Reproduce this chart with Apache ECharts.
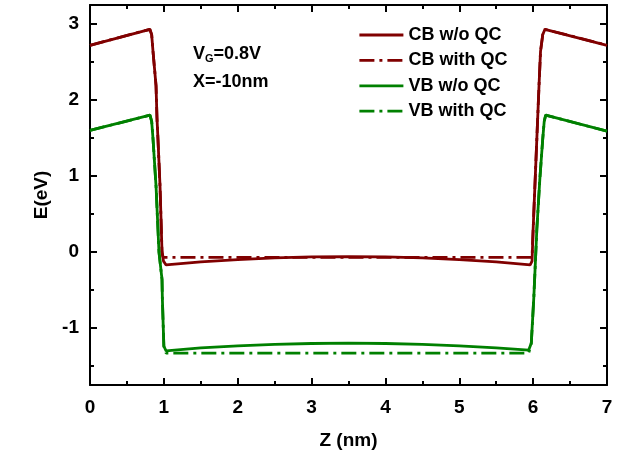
<!DOCTYPE html>
<html>
<head>
<meta charset="utf-8">
<script src="https://cdn.jsdelivr.net/npm/echarts@6/dist/echarts.min.js"></script>
<style>
  html, body { margin: 0; padding: 0; background: #fff; }
  #main { width: 632px; height: 466px; }
</style>
</head>
<body>
<div id="main"></div>
<script>
// band edges, [z (nm), E (eV)]
const cbNoQC = [
  [0, 2.72], [0.81, 2.93], [0.835, 2.86], [0.853, 2.64], [0.894, 2.19], [0.907, 1.76],
  [0.92, 1.49], [0.948, 0.87], [0.975, 0.0], [0.995, -0.12], [1.03, -0.17],
  [1.5, -0.13], [2.0, -0.10], [2.5, -0.078], [3.0, -0.065], [3.5, -0.06],
  [4.0, -0.065], [4.5, -0.078], [5.0, -0.10], [5.5, -0.13], [5.96, -0.17],
  [5.985, -0.12], [6.0, 0.3], [6.05, 1.49], [6.08, 2.2], [6.1, 2.64],
  [6.13, 2.86], [6.16, 2.93], [7, 2.72]
];
const cbQC = [
  [0, 2.72], [0.81, 2.93], [0.835, 2.86], [0.853, 2.64], [0.894, 2.19], [0.907, 1.76],
  [0.92, 1.49], [0.948, 0.87], [0.975, 0.0], [0.99, -0.07], [3.5, -0.07],
  [5.985, -0.07], [6.0, 0.3], [6.05, 1.49], [6.08, 2.2], [6.1, 2.64],
  [6.13, 2.86], [6.16, 2.93], [7, 2.72]
];
const vbNoQC = [
  [0, 1.6], [0.812, 1.8], [0.835, 1.72], [0.853, 1.49], [0.894, 0.87], [0.934, 0.0],
  [0.975, -0.36], [0.98, -0.62], [1.0, -1.24], [1.03, -1.30],
  [1.5, -1.262], [2.0, -1.235], [2.5, -1.215], [3.0, -1.204], [3.5, -1.2],
  [4.0, -1.204], [4.5, -1.215], [5.0, -1.235], [5.5, -1.262], [5.94, -1.29],
  [5.975, -1.2], [6.01, -0.58], [6.05, 0.3], [6.09, 0.95], [6.13, 1.49],
  [6.15, 1.72], [6.17, 1.8], [7, 1.59]
];
const vbQC = [
  [0, 1.6], [0.812, 1.8], [0.835, 1.72], [0.853, 1.49], [0.894, 0.87], [0.934, 0.0],
  [0.975, -0.36], [0.98, -0.62], [1.0, -1.24], [1.03, -1.33], [3.5, -1.33],
  [5.94, -1.33], [5.975, -1.2], [6.01, -0.58], [6.05, 0.3], [6.09, 0.95],
  [6.13, 1.49], [6.15, 1.72], [6.17, 1.8], [7, 1.59]
];
const seriesNames = ["CB w/o QC", "CB with QC", "VB w/o QC", "VB with QC"];
const yMajor = [-1, 0, 1, 2, 3];
const yMinor = [-1.5, -0.5, 0.5, 1.5, 2.5];

const FONT = "Liberation Sans";
const RED = "#800000";
const GREEN = "#008000";
const dashDot = [15, 5, 3, 5];

const chart = echarts.init(document.getElementById("main"));

function xAx(pos, labels) {
  return {
    type: "value", position: pos, min: 0, max: 7, interval: 1,
    axisLine: { show: true, onZero: false, lineStyle: { color: "#000", width: 2 } },
    axisTick: { show: true, inside: true, length: 7, lineStyle: { color: "#000", width: 2 } },
    minorTick: { show: true, splitNumber: 2, length: 4, lineStyle: { color: "#000", width: 2 } },
    splitLine: { show: false },
    axisLabel: { show: labels, color: "#000", fontFamily: FONT, fontWeight: "bold", fontSize: 19, margin: 13 },
    name: labels ? "Z (nm)" : "", nameLocation: "middle", nameGap: 46,
    nameTextStyle: { color: "#000", fontFamily: FONT, fontWeight: "bold", fontSize: 19 }
  };
}
function yAx(pos, vals, len, labels, line) {
  return {
    type: "value", position: pos, min: -1.75, max: 3.25,
    axisLine: { show: line, onZero: false, lineStyle: { color: "#000", width: 2 } },
    axisTick: { show: true, inside: true, length: len, customValues: vals, lineStyle: { color: "#000", width: 2 } },
    splitLine: { show: false },
    axisLabel: { show: labels, customValues: vals, color: "#000", fontFamily: FONT, fontWeight: "bold", fontSize: 19, margin: 11 },
    name: labels ? "E(eV)" : "", nameLocation: "middle", nameGap: 32,
    nameTextStyle: { color: "#000", fontFamily: FONT, fontWeight: "bold", fontSize: 19 }
  };
}

function line(name, data, color, type) {
  return {
    name: name, type: "line", data: data, symbol: "none", smooth: false,
    xAxisIndex: 0, yAxisIndex: 0,
    lineStyle: { color: color, width: 2.8, type: type },
    itemStyle: { color: color },
    animation: false
  };
}

const option = {
  animation: false,
  grid: { left: 90, right: 25, top: 5, bottom: 81 },
  xAxis: [xAx("bottom", true), xAx("top", false)],
  yAxis: [
    yAx("left", yMajor, 7, true, true),
    yAx("left", yMinor, 4, false, false),
    yAx("right", yMajor, 7, false, true),
    yAx("right", yMinor, 4, false, false)
  ],
  legend: {
    orient: "vertical", left: 358, top: 26, padding: 0,
    itemWidth: 44, itemHeight: 16, itemGap: 7.4,
    data: seriesNames,
    itemStyle: { opacity: 0 },
    lineStyle: { width: 2.8 },
    textStyle: { color: "#000", fontFamily: FONT, fontWeight: "bold", fontSize: 18, lineHeight: 16 }
  },
  graphic: [
    {
      type: "text", left: 193, top: 44,
      style: {
        text: "{v|V}{g|G}{v|=0.8V}",
        rich: {
          v: { fontFamily: FONT, fontWeight: "bold", fontSize: 18, fill: "#000", lineHeight: 20 },
          g: { fontFamily: FONT, fontWeight: "bold", fontSize: 11, fill: "#000", lineHeight: 20, verticalAlign: "bottom", padding: [9, 0, 0, 0] }
        }
      }
    },
    {
      type: "text", left: 193, top: 73,
      style: { text: "X=-10nm", fontFamily: FONT, fontWeight: "bold", fontSize: 18, fill: "#000" }
    }
  ],
  series: [
    line(seriesNames[0], cbNoQC, RED, "solid"),
    line(seriesNames[1], cbQC, RED, dashDot),
    line(seriesNames[2], vbNoQC, GREEN, "solid"),
    line(seriesNames[3], vbQC, GREEN, dashDot)
  ]
};

chart.setOption(option);
</script>
</body>
</html>
